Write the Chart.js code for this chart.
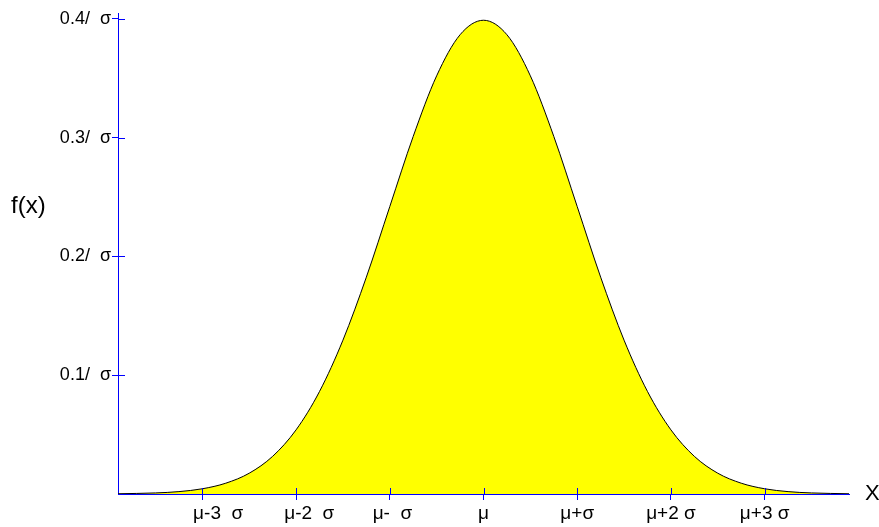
<!DOCTYPE html>
<html>
<head>
<meta charset="utf-8">
<script src="https://cdn.jsdelivr.net/npm/chart.js@4.4.0/dist/chart.umd.min.js"></script>
<style>
  html, body { margin: 0; padding: 0; background: #fff; }
  #wrap { width: 879px; height: 527px; }
</style>
</head>
<body>
<div id="wrap"><canvas id="bell"></canvas></div>
<script>
// x in units of sigma from the mean, f(x) in units of 1/sigma
const sigmaSteps = [-3.9, -3.5, -3.25, -3, -2.75, -2.5, -2.25, -2, -1.75, -1.5, -1.25, -1, -0.75, -0.5, -0.25, 0,
  0.25, 0.5, 0.75, 1, 1.25, 1.5, 1.75, 2, 2.25, 2.5, 2.75, 3, 3.25, 3.5, 3.9];
const density = [0.0002, 0.0009, 0.002, 0.0044, 0.0091, 0.0175, 0.0317, 0.054, 0.0863, 0.1295, 0.1826, 0.242, 0.3011, 0.3521, 0.3867, 0.3989,
  0.3867, 0.3521, 0.3011, 0.242, 0.1826, 0.1295, 0.0863, 0.054, 0.0317, 0.0175, 0.0091, 0.0044, 0.002, 0.0009, 0.0002];

const xTicks = [-3, -2, -1, 0, 1, 2, 3];
const xTickLabels = ['      \u03bc-3  \u03c3', '     \u03bc-2  \u03c3', ' \u03bc-  \u03c3', '\u03bc', '\u03bc+\u03c3', '\u03bc+2 \u03c3', '\u03bc+3 \u03c3'];
const yTicks = [0.1, 0.2, 0.3, 0.4];
const yTickLabels = ['0.1/  \u03c3', '0.2/  \u03c3', '0.3/  \u03c3', '0.4/  \u03c3'];

const AXIS = '#0000ff';
const FONT = 'Liberation Sans, Arial, sans-serif';

// tick marks cross the axis, so draw the inner half too, plus the axis titles
const axisExtras = {
  id: 'axisExtras',
  afterDraw(chart) {
    const {ctx, chartArea, scales: {x, y}} = chart;
    ctx.save();
    ctx.strokeStyle = AXIS;
    ctx.lineWidth = 1;
    ctx.beginPath();
    xTicks.forEach(v => {
      const px = Math.round(x.getPixelForValue(v)) + 0.5;
      ctx.moveTo(px, chartArea.bottom);
      ctx.lineTo(px, chartArea.bottom - 6);
    });
    yTicks.forEach(v => {
      const py = Math.round(y.getPixelForValue(v)) + 0.5;
      ctx.moveTo(chartArea.left, py);
      ctx.lineTo(chartArea.left + 7, py);
    });
    ctx.stroke();

    ctx.fillStyle = '#000';
    ctx.textBaseline = 'middle';
    ctx.textAlign = 'left';
    ctx.font = '24px ' + FONT;
    ctx.fillText('f(x)', 11, 206);
    ctx.font = '22px ' + FONT;
    ctx.fillText('X', 865, chartArea.bottom);
    ctx.restore();
  }
};

new Chart(document.getElementById('bell'), {
  type: 'line',
  data: {
    datasets: [{
      data: sigmaSteps.map((s, i) => ({x: s, y: density[i]})),
      borderColor: '#000',
      borderWidth: 1,
      backgroundColor: '#ffff00',
      fill: 'origin',
      pointRadius: 0,
      cubicInterpolationMode: 'monotone'
    }]
  },
  options: {
    responsive: true,
    maintainAspectRatio: false,
    animation: false,
    layout: { padding: { top: 13, right: 30, left: 0, bottom: 0 } },
    plugins: { legend: { display: false }, tooltip: { enabled: false } },
    scales: {
      x: {
        type: 'linear',
        min: -3.9,
        max: 3.9,
        afterBuildTicks: scale => { scale.ticks = xTicks.map(v => ({value: v})); },
        afterFit: scale => { scale.height = 33; },
        border: { color: AXIS, width: 1 },
        grid: { drawOnChartArea: false, color: AXIS, tickLength: 6 },
        ticks: {
          color: '#000',
          font: { family: FONT, size: 19 },
          padding: 2,
          maxRotation: 0,
          autoSkip: false,
          callback: v => xTickLabels[xTicks.indexOf(v)]
        }
      },
      y: {
        min: 0,
        max: 0.405,
        afterBuildTicks: scale => { scale.ticks = yTicks.map(v => ({value: v})); },
        afterFit: scale => { scale.width = 118; },
        border: { color: AXIS, width: 1 },
        grid: { drawOnChartArea: false, color: AXIS, tickLength: 6 },
        ticks: {
          color: '#000',
          font: { family: FONT, size: 18 },
          padding: 1,
          autoSkip: false,
          callback: v => yTickLabels[yTicks.indexOf(v)]
        }
      }
    }
  },
  plugins: [axisExtras]
});
</script>
</body>
</html>
